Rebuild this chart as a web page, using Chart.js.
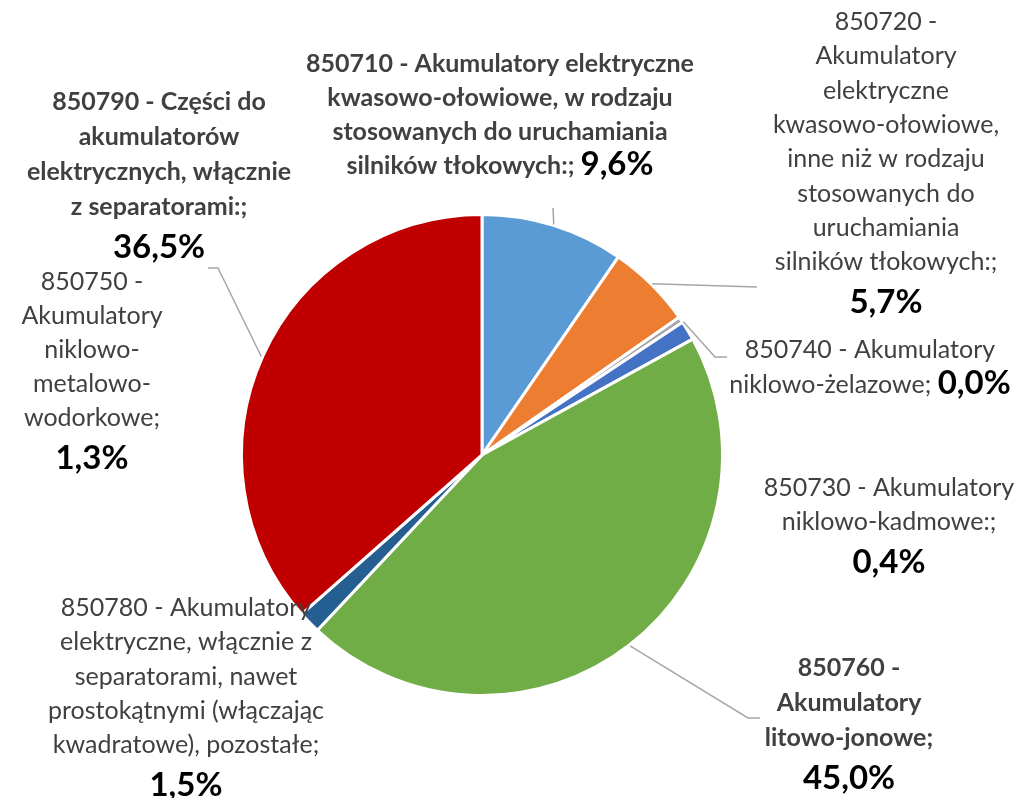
<!DOCTYPE html>
<html>
<head>
<meta charset="utf-8">
<script src="https://cdn.jsdelivr.net/npm/chart.js@4.4.1/dist/chart.umd.min.js"></script>
<style>
  html, body { margin: 0; padding: 0; background: #fff; }
  #wrap { width: 1023px; height: 798px; position: relative; }
</style>
</head>
<body>
<div id="wrap"><canvas id="wykres"></canvas></div>
<script>
// DANE
const kody = ['850710', '850720', '850730', '850740', '850750', '850760', '850780', '850790'];
const udzialy = [9.6, 5.7, 0.4, 0.0, 1.3, 45.0, 1.5, 36.5];
const kolory = ['#5B9BD5', '#ED7D31', '#A5A5A5', '#FFC000', '#4472C4', '#70AD47', '#255E91', '#C00000'];
// etykiety w liniach (tak jak w oryginale)
const etykiety = [
    ['850710 - Akumulatory elektryczne', 'kwasowo-ołowiowe, w rodzaju', 'stosowanych do uruchamiania', 'silników tłokowych:;'],
    ['850720 -', 'Akumulatory', 'elektryczne', 'kwasowo-ołowiowe,', 'inne niż w rodzaju', 'stosowanych do', 'uruchamiania', 'silników tłokowych:;'],
    ['850730 - Akumulatory', 'niklowo-kadmowe:;'],
    ['850740 - Akumulatory', 'niklowo-żelazowe;'],
    ['850750 -', 'Akumulatory', 'niklowo-', 'metalowo-', 'wodorkowe;'],
    ['850760 -', 'Akumulatory', 'litowo-jonowe;'],
    ['850780 - Akumulatory', 'elektryczne, włącznie z', 'separatorami, nawet', 'prostokątnymi (włączając', 'kwadratowe), pozostałe;'],
    ['850790 - Części do', 'akumulatorów', 'elektrycznych, włącznie', 'z separatorami:;']
];

// POZYCJE ETYKIET (uklad)
const FONT = 'Lato, "Open Sans", sans-serif';
const pozycje = [
    { x: 500, y: 64, lh: 34, bold: true, inline: true },
    { x: 886, y: 22, lh: 34.3, bold: false, pctGap: 40 },
    { x: 889, y: 488, lh: 34, bold: false, pctGap: 40 },
    { x: 870, y: 350, lh: 35, bold: false, inline: true },
    { x: 92, y: 282, lh: 34, bold: false, pctGap: 40 },
    { x: 849, y: 668, lh: 35, bold: true, pctGap: 40 },
    { x: 186, y: 608, lh: 34.3, bold: false, pctGap: 40 },
    { x: 159, y: 102, lh: 35, bold: true, pctGap: 40 }
];
// linie odniesienia: kat (stopnie od gory) albo srodek wycinka, potem punkty po stronie etykiety
const linie = [
    { pts: [[553, 208]] },
    { pts: [[757, 287]] },
    null,
    { pts: [[715, 357], [727, 357]] },
    { angle: 294, pts: [[218, 268], [208, 268]] },
    { pts: [[748, 718], [760, 718]] },
    null,
    null
];

function procent(v) {
    return v.toFixed(1).replace('.', ',') + '%';
}

const etykietyPlugin = {
    id: 'etykiety',
    afterDraw(chart) {
        const ctx = chart.ctx;
        const meta = chart.getDatasetMeta(0);
        ctx.save();
        // LINIE
        ctx.strokeStyle = '#A6A6A6';
        ctx.lineWidth = 1.5;
        linie.forEach((l, i) => {
            if (!l) return;
            const arc = meta.data[i];
            const p = arc.getProps(['x', 'y', 'startAngle', 'endAngle', 'outerRadius'], true);
            let a = (p.startAngle + p.endAngle) / 2;
            if (l.angle != null) a = (l.angle - 90) * Math.PI / 180;
            const r = p.outerRadius + 1;
            ctx.beginPath();
            ctx.moveTo(p.x + Math.cos(a) * r, p.y + Math.sin(a) * r);
            l.pts.forEach(pt => ctx.lineTo(pt[0], pt[1]));
            ctx.stroke();
        });
        // TEKSTY
        ctx.textBaseline = 'middle';
        etykiety.forEach((lines, i) => {
            const c = pozycje[i];
            const f = (c.bold ? 'bold ' : '') + '25px ' + FONT;
            const pf = 'bold 33px ' + FONT;
            const pct = procent(udzialy[i]);
            lines.forEach((t, j) => {
                const y = c.y + j * c.lh;
                if (c.inline && j === lines.length - 1) {
                    ctx.font = f;
                    const w1 = ctx.measureText(t + ' ').width;
                    ctx.font = pf;
                    const w2 = ctx.measureText(pct).width;
                    const x0 = c.x - (w1 + w2) / 2;
                    ctx.textAlign = 'left';
                    ctx.font = f;
                    ctx.fillStyle = '#404040';
                    ctx.fillText(t + ' ', x0, y);
                    ctx.font = pf;
                    ctx.fillStyle = '#000';
                    ctx.fillText(pct, x0 + w1, y - 2);
                } else {
                    ctx.textAlign = 'center';
                    ctx.font = f;
                    ctx.fillStyle = '#404040';
                    ctx.fillText(t, c.x, y);
                }
            });
            if (!c.inline) {
                ctx.textAlign = 'center';
                ctx.font = pf;
                ctx.fillStyle = '#000';
                ctx.fillText(pct, c.x, c.y + (lines.length - 1) * c.lh + c.pctGap);
            }
        });
        ctx.restore();
    }
};

new Chart(document.getElementById('wykres').getContext('2d'), {
    type: 'pie',
    data: {
        labels: kody,
        datasets: [{
            data: udzialy,
            backgroundColor: kolory,
            borderColor: '#ffffff',
            borderWidth: 3
        }]
    },
    options: {
        responsive: true,
        maintainAspectRatio: false,
        animation: false,
        layout: {
            padding: { left: 240, right: 299, top: 213, bottom: 101 }
        },
        plugins: {
            legend: { display: false },
            tooltip: { enabled: false }
        }
    },
    plugins: [etykietyPlugin]
});
</script>
</body>
</html>
